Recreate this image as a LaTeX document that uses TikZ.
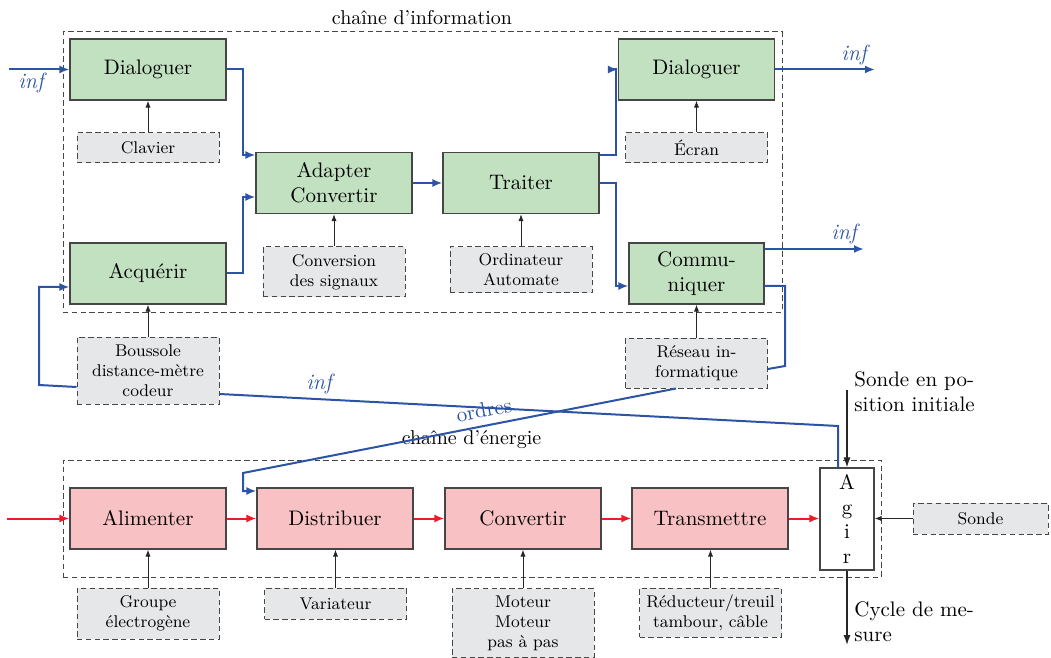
\documentclass[tikz,border=0pt]{standalone}
\usetikzlibrary{arrows.meta}
\definecolor{gfill}{RGB}{194,225,193}
\definecolor{pfill}{RGB}{248,193,196}
\definecolor{afill}{RGB}{230,231,233}
\definecolor{bline}{RGB}{44,84,166}
\definecolor{rline}{RGB}{236,28,36}
\definecolor{dgray}{RGB}{70,70,70}
\begin{document}
\begin{tikzpicture}[x=0.5pt,y=-0.5pt,
  box/.style={draw=dgray, line width=0.55pt, inner sep=0pt, align=center,
    font=\fontsize{10.5}{12.5}\selectfont, minimum width=78pt, minimum height=30.5pt},
  gbox/.style={box, fill=gfill},
  pbox/.style={box, fill=pfill},
  aux/.style={draw=dgray, line width=0.5pt, dash pattern=on 2.7pt off 1.7pt, fill=afill,
    inner sep=0pt, align=center, font=\fontsize{8.5}{10}\selectfont, minimum width=71pt},
  grp/.style={draw=dgray, line width=0.5pt, dash pattern=on 2.7pt off 1.7pt, inner sep=0pt},
  lab/.style={font=\fontsize{10}{12}\selectfont},
  inflab/.style={text=bline, font=\fontsize{11}{13}\selectfont\itshape},
  bl/.style={draw=bline, line width=1pt},
  blA/.style={bl, -{Latex[length=5pt,width=4pt]}},
  rdA/.style={draw=rline, line width=1pt, -{Latex[length=5pt,width=4pt]}},
  blkA/.style={draw=black!85, line width=0.5pt, -{Latex[length=3.5pt,width=2.6pt]}}
]
\useasboundingbox (0,0) rectangle (1051,658);

% groups
\node[grp, minimum width=359.5pt, minimum height=140pt] (info) at (422.5,172) {};
\node[grp, minimum width=409pt, minimum height=58.5pt] (ener) at (472,518.5) {};
\node[lab] (infolab) at (422,18) {chaîne d’information};
\node[lab] (enerlab) at (471.5,440) {chaîne d’énergie};

% information chain
\node[gbox] (dialL) at (148,69.5) {Dialoguer};
\node[gbox] (adapt) at (334,183) {Adapter\\Convertir};
\node[gbox] (acq) at (148,273.5) {Acquérir};
\node[gbox] (trait) at (521,183) {Traiter};
\node[gbox] (dialR) at (696.5,69.5) {Dialoguer};
\node[gbox, minimum width=67.5pt] (comm) at (696.5,273.5) {Commu-\\niquer};

\node[aux, minimum height=15pt] (clav) at (148,148) {Clavier};
\node[aux, minimum height=25pt] (conv) at (334,272) {Conversion\\des signaux};
\node[aux, minimum height=23pt] (ordi) at (521,270) {Ordinateur\\Automate};
\node[aux, minimum height=15pt] (ecran) at (696.5,148) {Écran};
\node[aux, minimum height=33.5pt] (bous) at (148,370.5) {Boussole\\distance-mètre\\codeur};
\node[aux, minimum height=25pt] (res) at (696.5,363) {Réseau in-\\formatique};

% energy chain
\node[pbox] (alim) at (148,518.5) {Alimenter};
\node[pbox] (distr) at (335,518.5) {Distribuer};
\node[pbox] (conve) at (523,518.5) {Convertir};
\node[pbox] (trans) at (710,518.5) {Transmettre};
\node[box, fill=white, minimum width=27pt, minimum height=51pt,
  font=\fontsize{10.5}{12.2}\selectfont] (agir) at (847,519) {A\\g\\i\\r};

\node[aux, minimum height=25.5pt] (grpe) at (148,613.5) {Groupe\\électrogène};
\node[aux, minimum height=15.5pt] (var) at (335.5,603.5) {Variateur};
\node[aux, minimum height=34.5pt] (mot) at (523,623) {Moteur\\Moteur\\pas à pas};
\node[aux, minimum height=24.5pt] (red) at (710.5,612.5) {Réducteur/treuil\\tambour, câble};
\node[aux, minimum width=67.5pt, minimum height=15.5pt] (sonde) at (980.5,518.5) {Sonde};

% free ends
\coordinate (inL) at (9,69.5);
\coordinate (outD) at (875,69.5);
\coordinate (outC) at (864,249);
\coordinate (inE) at (7,518.5);
\coordinate (sip) at (847,390);
\coordinate (cyc) at (847,645);

% blue connectors
\draw[blA] (inL) -- (dialL.west);
\node[inflab] at (31,83) {inf};
\draw[blA] (dialL.east) -| (243,155) -- (adapt.west |- 0,155);
\draw[blA] (acq.east) -| (243,197) -- (adapt.west |- 0,197);
\draw[blA] (adapt.east) -- (trait.west);
\draw[blA] (trait.east |- 0,155) -| (616,69.5) -- (dialR.west);
\draw[blA] (trait.east) -| (616,286) -- (comm.west |- 0,286);
\draw[blA] (dialR.east) -- (outD);
\node[inflab] at (854,55) {inf};
\draw[blA] (comm.east |- 0,249) -- (outC);
\node[inflab] at (844,234) {inf};
\draw[bl] (comm.east |- 0,286) -| (785,366) -- (res.east |- 0,369);
\draw[blA] (res.south -| 676,0) -- (243,473) -- (243,491) -- (distr.west |- 0,491);
\node[text=bline, font=\fontsize{10.5}{12.5}\selectfont, rotate=11] at (484,410) {ordres};
\draw[bl] (agir.north -| 838,0) -- (838,426) -- (bous.east |- 0,394);
\node[inflab] at (319,384) {inf};
\draw[blA] (bous.west |- 0,387) -- (39,385) -- (39,287) -- (acq.west |- 0,287);

% black arrows
\draw[blkA] (clav.north) -- (dialL.south);
\draw[blkA] (conv.north) -- (adapt.south);
\draw[blkA] (ordi.north) -- (trait.south);
\draw[blkA] (ecran.north) -- (dialR.south);
\draw[blkA] (res.north) -- (comm.south);
\draw[blkA] (bous.north) -- (acq.south);
\draw[blkA] (grpe.north) -- (alim.south);
\draw[blkA] (var.north) -- (var.north |- distr.south);
\draw[blkA] (mot.north) -- (conve.south);
\draw[blkA] (red.north) -- (red.north |- trans.south);
\draw[blkA] (sonde.west) -- (agir.east |- sonde.west);
\draw[blkA, line width=0.7pt, -{Latex[length=5pt,width=3.6pt]}] (sip) -- (agir.north);
\draw[blkA, line width=0.7pt, -{Latex[length=5pt,width=3.6pt]}] (agir.south) -- (cyc);
\node[anchor=west, inner sep=0pt, align=left, font=\fontsize{10.5}{12.5}\selectfont] (siptxt) at (854,392) {Sonde en po-\\sition initiale};
\node[anchor=west, inner sep=0pt, align=left, font=\fontsize{10.5}{12.5}\selectfont] (cyctxt) at (854,621.5) {Cycle de me-\\sure};

% red connectors
\draw[rdA] (inE) -- (alim.west);
\draw[rdA] (alim.east) -- (distr.west);
\draw[rdA] (distr.east) -- (conve.west);
\draw[rdA] (conve.east) -- (trans.west);
\draw[rdA] (trans.east) -- (agir.west |- trans.east);
\end{tikzpicture}
\end{document}
